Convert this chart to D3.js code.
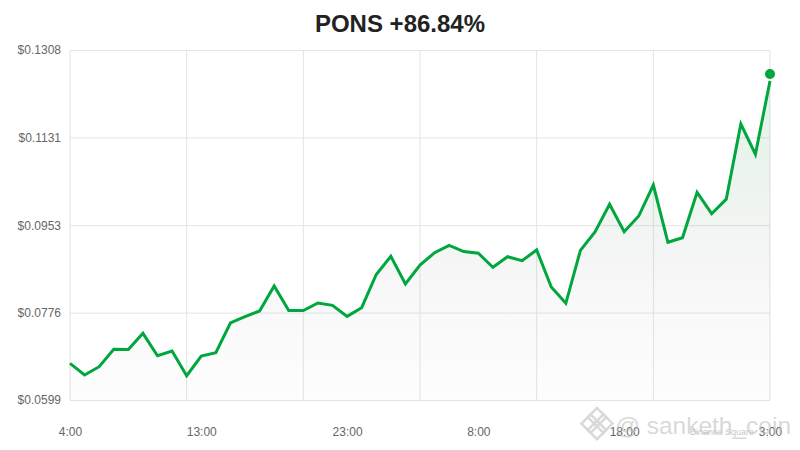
<!DOCTYPE html>
<html>
<head>
<meta charset="utf-8">
<script src="https://cdn.jsdelivr.net/npm/d3@7"></script>
<style>
  body { margin: 0; background: #fff; }
  .chart { width: 800px; height: 450px; }
  text { font-family: "Liberation Sans", Arial, sans-serif; }
</style>
</head>
<body>
<div class="chart"></div>
<script>
// hourly prices
const prices = [
  0.06733, 0.06496, 0.06665, 0.07017, 0.07013, 0.07341, 0.06887, 0.06983,
  0.06482, 0.06881, 0.06948, 0.07550, 0.07677, 0.07793, 0.08299, 0.07803,
  0.07803, 0.07955, 0.07908, 0.07685, 0.07860, 0.08532, 0.08901, 0.08340,
  0.08725, 0.08974, 0.09124, 0.08998, 0.08962, 0.08678, 0.08893, 0.08812,
  0.09029, 0.08279, 0.07949, 0.09022, 0.09393, 0.09956, 0.09399, 0.09717,
  0.10345, 0.09185, 0.09278, 0.10197, 0.09764, 0.10058, 0.11581, 0.10969,
  0.12452
]
const currentPrice = 0.12594

const yTicks = [0.0599, 0.0776, 0.0953, 0.1131, 0.1308]
const xTickLabels = ["4:00", "13:00", "23:00", "8:00", "18:00", "3:00"]
const xTickIdx = [0, 9, 19, 28, 38, 48]
const xGridIdx = [0, 8, 16, 24, 32, 40, 48]

const title = "PONS +86.84%"
const green = "#00a63e"

const width = 800
const height = 450
const margin = { top: 50, right: 30, bottom: 50, left: 70 }
const innerWidth = width - margin.left - margin.right
const innerHeight = height - margin.top - margin.bottom

const svg = d3.select(".chart")
  .append("svg")
  .attr("width", width)
  .attr("height", height)

svg.append("text")
  .attr("x", width / 2)
  .attr("y", 32)
  .attr("text-anchor", "middle")
  .attr("font-size", 24)
  .attr("font-weight", "bold")
  .attr("fill", "#222")
  .text(title)

const g = svg.append("g")
  .attr("transform", `translate(${margin.left},${margin.top})`)

const x = d3.scaleLinear()
  .domain([0, prices.length - 1])
  .range([0, innerWidth])

const y = d3.scaleLinear()
  .domain([yTicks[0], yTicks[yTicks.length - 1]])
  .range([innerHeight, 0])

// gradient under the line
const grad = svg.append("defs").append("linearGradient")
  .attr("id", "fill")
  .attr("gradientUnits", "userSpaceOnUse")
  .attr("x1", 0).attr("x2", 0)
  .attr("y1", 0).attr("y2", innerHeight)
grad.append("stop").attr("offset", 0).attr("stop-color", green).attr("stop-opacity", 0.14)
grad.append("stop").attr("offset", 0.6).attr("stop-color", "#7a8c7f").attr("stop-opacity", 0.08)
grad.append("stop").attr("offset", 1).attr("stop-color", "#c8c8c8").attr("stop-opacity", 0.04)

// y grid + labels
g.append("g")
  .attr("class", "axis axis--y")
  .call(d3.axisLeft(y)
    .tickValues(yTicks)
    .tickSize(-innerWidth)
    .tickPadding(9)
    .tickFormat(d => "$" + d.toFixed(4)))

// x grid (evenly spaced)
g.append("g")
  .attr("class", "grid--x")
  .selectAll("line")
  .data(xGridIdx)
  .join("line")
  .attr("x1", d => x(d)).attr("x2", d => x(d))
  .attr("y1", 0).attr("y2", innerHeight)
  .attr("stroke", "#e3e3e3")

// x labels
g.append("g")
  .attr("class", "axis axis--x")
  .attr("transform", `translate(0,${innerHeight})`)
  .call(d3.axisBottom(x)
    .tickValues(xTickIdx)
    .tickSize(0)
    .tickPadding(27)
    .tickFormat((d, i) => xTickLabels[i]))

d3.selectAll(".axis").select(".domain").remove()
d3.selectAll(".axis .tick line").attr("stroke", "#e3e3e3")
d3.selectAll(".axis .tick text")
  .attr("fill", "#666")
  .attr("font-size", 12)
  .attr("font-family", "Liberation Sans, Arial, sans-serif")

const area = d3.area()
  .x((d, i) => x(i))
  .y0(innerHeight)
  .y1(d => y(d))

const line = d3.line()
  .x((d, i) => x(i))
  .y(d => y(d))

g.append("path")
  .datum(prices)
  .attr("d", area)
  .attr("fill", "url(#fill)")

g.append("path")
  .datum(prices)
  .attr("d", line)
  .attr("fill", "none")
  .attr("stroke", green)
  .attr("stroke-width", 3)
  .attr("stroke-linejoin", "miter")

g.append("circle")
  .attr("cx", x(prices.length - 1))
  .attr("cy", y(currentPrice))
  .attr("r", 5)
  .attr("fill", green)

// watermark
const wm = svg.append("g").attr("opacity", 0.55)
const logo = wm.append("g").attr("transform", "translate(597,425) rotate(45)")
;[[-9, -9], [0, 0], [-9, 0], [0, -9]].forEach(([a, b]) => {
  logo.append("rect")
    .attr("x", a - 3).attr("y", b - 3)
    .attr("width", 13).attr("height", 13)
    .attr("fill", "none")
    .attr("stroke", "#bbb")
    .attr("stroke-width", 2.5)
})
wm.append("text")
  .attr("x", 615).attr("y", 434)
  .attr("font-size", 24)
  .attr("textLength", 176)
  .attr("lengthAdjust", "spacingAndGlyphs")
  .attr("fill", "#bbb")
  .text("@ sanketh_coin")
wm.append("text")
  .attr("x", 690).attr("y", 435)
  .attr("font-size", 9)
  .attr("fill", "#999")
  .text("Binance Square")
</script>
</body>
</html>
